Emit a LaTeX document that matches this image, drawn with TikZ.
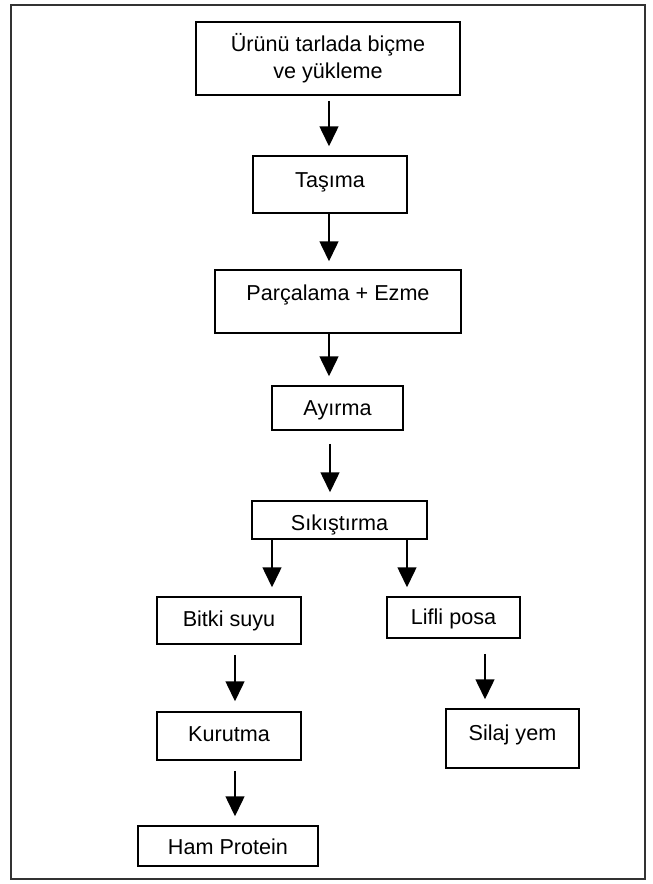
\documentclass[tikz,border=0pt]{standalone}
\usepackage{fontspec}
\setmainfont{Liberation Sans}
\usetikzlibrary{arrows.meta}
\begin{document}
\begin{tikzpicture}[x=1pt,y=-1pt,
  stepbox/.style={draw, line width=1.5pt, inner sep=0pt, anchor=base,
    font=\fontsize{21.6}{27}\selectfont},
  arr/.style={line width=1.5pt, -{Triangle[width=19pt,length=20pt]}},
  frame/.style={draw=black!80, line width=2.2pt}]
\useasboundingbox (0,0) rectangle (653,884);
\draw[frame] (11,5) rectangle (645,879);

\node[stepbox, anchor=center, minimum width=264pt, minimum height=73pt, align=center]
  (b1) at (328,58.5) {Ürünü tarlada biçme\\ve yükleme};
\node[stepbox, minimum width=154pt, text height=31.5pt, text depth=25.5pt] (b2) at (330,187.5) {Taşıma};
\node[stepbox, minimum width=246pt, text height=30.5pt, text depth=32.5pt] (b3) at (338,300.5) {Parçalama + Ezme};
\node[stepbox, minimum width=131pt, text height=29.5pt, text depth=14.5pt] (b4) at (337.5,415.5) {Ayırma};
\node[stepbox, minimum width=175pt, text height=29.5pt, text depth=8.5pt] (b5) at (339.5,530.5) {Sıkıştırma};
\node[stepbox, minimum width=144pt, text height=29.5pt, text depth=17.5pt] (b6) at (229,626.5) {Bitki suyu};
\node[stepbox, minimum width=133pt, text height=27.5pt, text depth=13.5pt] (b7) at (453.5,624.5) {Lifli posa};
\node[stepbox, minimum width=144pt, text height=29.5pt, text depth=18.5pt] (b8) at (229,741.5) {Kurutma};
\node[stepbox, minimum width=180pt, text height=28.5pt, text depth=11.5pt] (b9) at (228,854.5) {Ham Protein};
\node[stepbox, minimum width=133pt, text height=31.5pt, text depth=27.5pt] (b10) at (512.5,740.5) {Silaj yem};

\draw[arr, shorten <=5pt, shorten >=9pt] ([xshift=1pt]b1.south) -- ([xshift=-1pt]b2.north);
\draw[arr, shorten >=8pt] ([xshift=-1pt]b2.south) -- ([xshift=-9pt]b3.north);
\draw[arr, shorten >=9pt] ([xshift=-9pt]b3.south) -- ([xshift=-8.5pt]b4.north);
\draw[arr, shorten <=13pt, shorten >=8pt] ([xshift=-7.5pt]b4.south) -- ([xshift=-9.5pt]b5.north);
\draw[arr, shorten >=9pt] ([xshift=-67.5pt]b5.south) -- ([xshift=43pt]b6.north);
\draw[arr, shorten >=9pt] ([xshift=67.5pt]b5.south) -- ([xshift=-46.5pt]b7.north);
\draw[arr, shorten <=10pt, shorten >=10pt] ([xshift=6pt]b6.south) -- ([xshift=6pt]b8.north);
\draw[arr, shorten <=10pt, shorten >=9pt] ([xshift=6pt]b8.south) -- ([xshift=7pt]b9.north);
\draw[arr, shorten <=15pt, shorten >=9pt] ([xshift=31.5pt]b7.south) -- ([xshift=-27.5pt]b10.north);
\end{tikzpicture}
\end{document}
